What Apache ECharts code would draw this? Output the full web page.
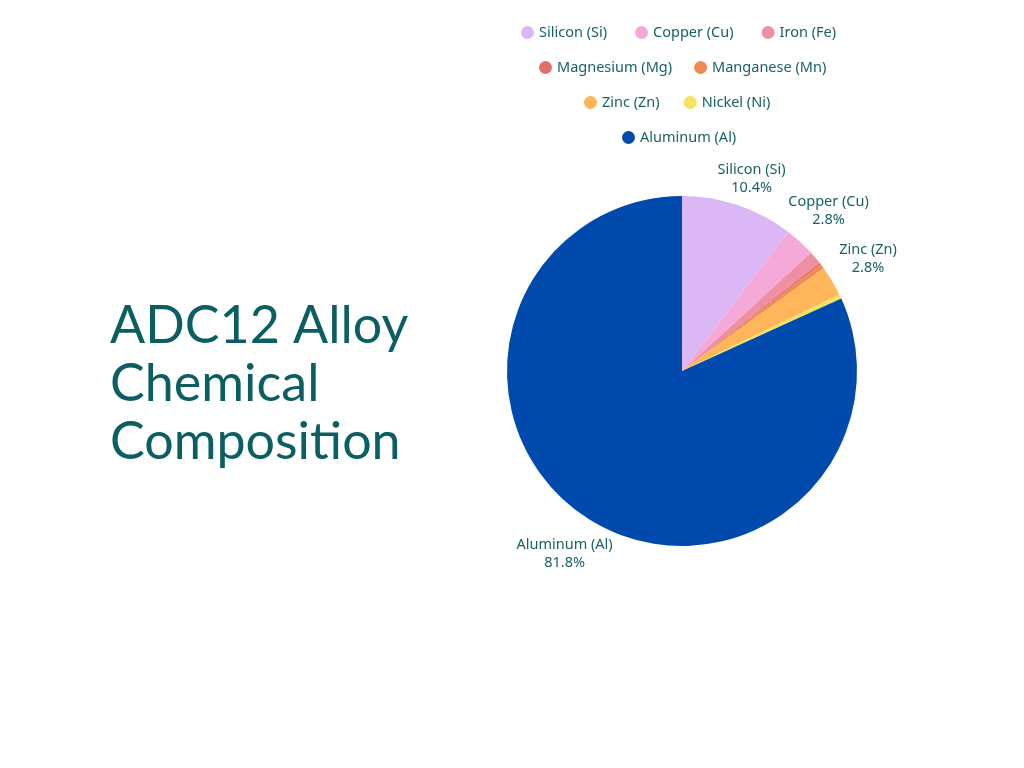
<!DOCTYPE html>
<html>
<head>
<meta charset="utf-8">
<script src="https://cdn.jsdelivr.net/npm/echarts@6/dist/echarts.min.js"></script>
<style>
  html, body { margin: 0; padding: 0; background: #ffffff; }
  #chart { width: 1024px; height: 768px; }
</style>
</head>
<body>
<div id="chart"></div>
<script>
var elements = ["Silicon (Si)", "Copper (Cu)", "Iron (Fe)", "Magnesium (Mg)", "Manganese (Mn)", "Zinc (Zn)", "Nickel (Ni)", "Aluminum (Al)"];
var percents = [10.4, 2.8, 1.2, 0.2, 0.4, 2.8, 0.4, 81.8];
var colors = ["#dbb8f5", "#f5a9d9", "#ef8fa1", "#e0706a", "#f08a50", "#ffb65a", "#f5e25e", "#004aad"];
var legendRows = [
  ["Silicon (Si)", "Copper (Cu)", "Iron (Fe)"],
  ["Magnesium (Mg)", "Manganese (Mn)"],
  ["Zinc (Zn)", "Nickel (Ni)"],
  ["Aluminum (Al)"]
];
var legendLeft = [516, 534, 579, 617];
var legendGap = [28, 22, 24, 24];

var teal = "#1b6163";
var chartDom = document.getElementById("chart");
var myChart = echarts.init(chartDom);

var pieData = elements.map(function (name, i) {
  return { name: name, value: percents[i], itemStyle: { color: colors[i] } };
});

var legends = legendRows.map(function (row, i) {
  return {
    data: row,
    left: legendLeft[i],
    top: 20 + i * 35,
    icon: "circle",
    itemWidth: 13,
    itemHeight: 13,
    itemGap: legendGap[i],
    textStyle: { color: teal, fontSize: 14.5, fontFamily: "Noto Sans" }
  };
});

var option = {
  backgroundColor: "#ffffff",
  title: {
    text: "ADC12 Alloy\nChemical\nComposition",
    left: 105,
    top: 292,
    textStyle: {
      color: "#0b5f61",
      fontSize: 52,
      lineHeight: 58,
      fontWeight: "normal",
      fontFamily: "Lato"
    }
  },
  legend: legends,
  series: [
    {
      type: "pie",
      center: [682, 371],
      radius: 175,
      startAngle: 90,
      clockwise: true,
      data: pieData,
      label: { show: false },
      labelLine: { show: false },
      emphasis: { scale: false }
    },
    {
      // invisible ring used only to place the centred slice labels
      type: "pie",
      center: [682, 371],
      radius: [202, 226],
      startAngle: 90,
      clockwise: true,
      silent: true,
      data: pieData.map(function (d, i) {
        return {
          name: d.name,
          value: d.value,
          itemStyle: { color: "rgba(0,0,0,0)" },
          label: i === 0 ? { offset: [0, 13] } : {}
        };
      }),
      label: {
        show: true,
        position: "inside",
        color: teal,
        fontSize: 14.5,
        lineHeight: 18,
        fontFamily: "Noto Sans",
        formatter: function (p) {
          return p.value >= 2.8 ? p.name + "\n" + p.value.toFixed(1) + "%" : "";
        }
      },
      labelLine: { show: false },
      tooltip: { show: false }
    }
  ]
};

option && myChart.setOption(option);
</script>
</body>
</html>
